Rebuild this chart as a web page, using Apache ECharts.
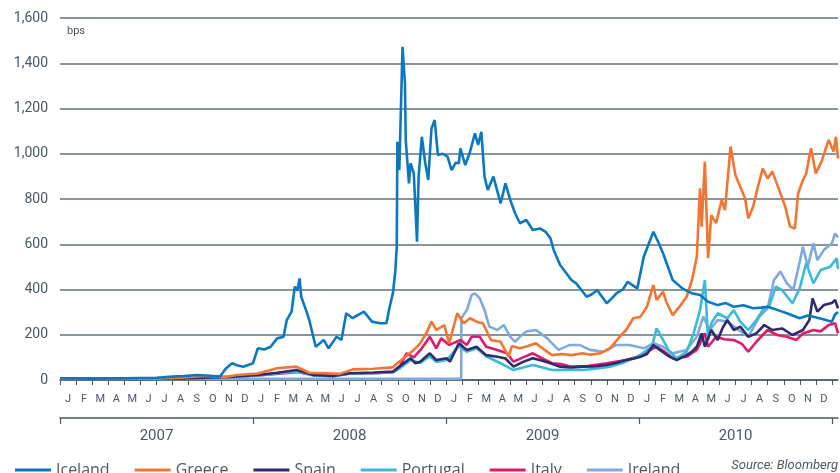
<!DOCTYPE html>
<html>
<head>
<meta charset="utf-8">
<script src="https://cdn.jsdelivr.net/npm/echarts@6/dist/echarts.min.js"></script>
<style>
  html, body { margin: 0; padding: 0; background: #fff; }
  #main { width: 840px; height: 473px; }
</style>
</head>
<body>
<div id="main"></div>
<script>
// months since Jan 2007, values in bps
var monthLabels = ['J','F','M','A','M','J','J','A','S','O','N','D',
  'J','F','M','A','M','J','J','A','S','O','N','D',
  'J','F','M','A','M','J','J','A','S','O','N','D',
  'J','F','M','A','M','J','J','A','S','O','N','D'];
var yearLabels = ['2007', '2008', '2009', '2010'];

var icelandX = [0, 2, 4, 6, 7, 7.7, 8.5, 9.1, 9.95, 10.3, 10.7, 11.0, 11.4, 12.0, 12.3, 12.7, 13.1, 13.5, 13.9, 14.1, 14.4, 14.6, 14.75, 14.9, 15.0, 15.3, 15.5, 15.9, 16.2, 16.4, 16.7, 17.2, 17.5, 17.8, 18.2, 18.6, 18.9, 19.4, 19.9, 20.3, 20.5, 20.7, 20.85, 20.94, 20.98, 21.05, 21.1, 21.2, 21.3, 21.45, 21.5, 21.7, 21.8, 22.0, 22.2, 22.3, 22.5, 22.7, 22.9, 23.1, 23.3, 23.5, 23.8, 24.1, 24.35, 24.6, 24.8, 24.9, 25.2, 25.5, 25.8, 26.0, 26.2, 26.4, 26.6, 26.95, 27.4, 27.7, 28.0, 28.3, 28.6, 29.0, 29.4, 29.85, 30.2, 30.5, 30.7, 31.1, 31.5, 31.8, 32.1, 32.4, 32.75, 33.1, 33.4, 34.0, 34.3, 34.6, 35.0, 35.3, 35.9, 36.3, 36.6, 36.9, 37.2, 37.5, 38.1, 38.7, 39.3, 39.8, 40.3, 40.9, 41.4, 41.9, 42.5, 43.1, 43.6, 44.0, 44.6, 45.2, 46.0, 46.5, 46.85, 47.4, 48.0, 48.2, 48.38];
var icelandY = [8, 6, 8, 10, 15, 18, 22, 20, 15, 50, 74, 65, 59, 74, 140, 135, 147, 184, 191, 265, 302, 412, 395, 449, 368, 309, 265, 147, 165, 177, 140, 191, 177, 295, 273, 290, 302, 258, 251, 251, 324, 383, 480, 589, 1053, 950, 928, 1200, 1473, 1311, 1061, 869, 958, 913, 611, 899, 1075, 965, 884, 1112, 1149, 995, 1000, 987, 928, 960, 958, 1024, 950, 1009, 1090, 1039, 1097, 899, 840, 899, 781, 869, 796, 737, 693, 707, 663, 670, 655, 626, 575, 508, 471, 442, 427, 400, 368, 380, 398, 339, 360, 383, 400, 434, 405, 545, 600, 655, 610, 560, 442, 405, 383, 376, 346, 331, 340, 324, 330, 317, 320, 324, 310, 295, 273, 285, 280, 270, 258, 290, 300];

var greeceX = [0, 3, 6, 7.5, 9, 10.2, 11, 12.3, 13.5, 14.7, 15.5, 16.5, 17.4, 18.2, 19.5, 20.7, 21.1, 21.6, 22.0, 22.4, 22.8, 23.1, 23.4, 23.9, 24.2, 24.7, 25.1, 25.5, 26.0, 26.3, 26.8, 27.4, 27.9, 28.1, 28.6, 29.1, 29.6, 30.0, 30.6, 31.2, 31.8, 32.5, 33.0, 33.6, 34.2, 34.8, 35.2, 35.65, 36.1, 36.5, 36.9, 37.1, 37.5, 37.7, 38.1, 38.6, 38.97, 39.3, 39.6, 39.8, 39.9, 40.1, 40.3, 40.5, 40.8, 41.15, 41.35, 41.7, 42.0, 42.3, 42.6, 42.8, 43.1, 43.4, 43.7, 44.0, 44.3, 44.8, 45.1, 45.4, 45.7, 45.9, 46.2, 46.4, 46.7, 47.0, 47.35, 47.8, 47.9, 48.1, 48.25, 48.38];
var greeceY = [5, 5, 6, 10, 18, 12, 22, 29, 52, 59, 32, 30, 27, 47, 50, 56, 81, 110, 133, 162, 210, 258, 221, 243, 162, 295, 251, 273, 255, 251, 177, 169, 103, 150, 140, 150, 162, 140, 110, 115, 110, 118, 112, 118, 140, 191, 221, 273, 280, 324, 420, 354, 390, 346, 287, 331, 368, 442, 545, 847, 678, 965, 538, 729, 693, 796, 751, 1031, 906, 854, 803, 715, 766, 854, 935, 891, 921, 825, 766, 678, 670, 825, 884, 913, 1024, 913, 965, 1061, 1068, 1010, 1075, 980];

var spainX = [0, 4, 7, 9, 10.5, 12.3, 13.5, 14.7, 15.75, 17.0, 18.0, 19.5, 20.7, 21.1, 21.8, 22.1, 22.4, 23.0, 23.4, 24.05, 24.25, 24.8, 25.3, 25.9, 26.5, 27.2, 27.7, 28.2, 28.8, 29.4, 30.0, 30.5, 31.1, 31.8, 32.5, 33.2, 34.0, 34.6, 35.2, 35.7, 36.1, 36.5, 36.9, 37.3, 37.9, 38.35, 38.97, 39.3, 39.6, 39.9, 40.1, 40.5, 40.9, 41.2, 41.5, 41.9, 42.3, 42.8, 43.3, 43.8, 44.3, 44.9, 45.55, 46.2, 46.6, 46.8, 47.1, 47.5, 48.0, 48.2, 48.38];
var spainY = [4, 4, 6, 10, 14, 22, 32, 44, 22, 18, 30, 33, 37, 59, 96, 74, 81, 118, 88, 96, 81, 162, 133, 147, 110, 103, 95, 59, 80, 96, 85, 74, 59, 55, 59, 60, 66, 75, 88, 95, 103, 115, 155, 133, 103, 88, 110, 125, 147, 206, 147, 221, 177, 230, 265, 221, 236, 191, 206, 243, 221, 228, 199, 221, 265, 361, 302, 331, 340, 354, 317];

var portugalX = [0, 4, 7, 9, 10.5, 12.3, 14.7, 15.75, 17, 18, 19.5, 20.7, 21.1, 21.8, 22.4, 23.0, 23.4, 24.05, 24.8, 25.3, 25.9, 26.5, 27.4, 28.2, 28.8, 29.4, 30.0, 30.6, 31.5, 32.5, 33.3, 34.2, 35.0, 35.65, 36.1, 36.5, 36.8, 37.1, 37.5, 37.9, 38.35, 38.97, 39.4, 39.8, 40.1, 40.3, 40.5, 40.9, 41.5, 41.9, 42.3, 42.8, 43.3, 43.7, 44.1, 44.5, 44.9, 45.55, 46.0, 46.4, 46.85, 47.3, 47.9, 48.3, 48.38];
var portugalY = [3, 3, 5, 8, 12, 20, 38, 20, 16, 28, 30, 33, 50, 88, 75, 105, 80, 88, 150, 125, 140, 105, 74, 44, 55, 66, 55, 44, 45, 44, 50, 59, 75, 96, 110, 133, 145, 228, 177, 125, 96, 125, 206, 309, 442, 177, 251, 295, 273, 309, 258, 221, 265, 309, 324, 412, 398, 339, 405, 516, 427, 486, 501, 538, 491];

var italyX = [0, 4, 7, 9, 10.5, 12.3, 14.7, 15.75, 17, 18, 19.5, 20.7, 21.1, 21.55, 22.0, 22.5, 23.0, 23.4, 23.7, 24.2, 24.9, 25.3, 25.6, 26.1, 26.5, 27.2, 27.8, 28.2, 28.8, 29.4, 30.0, 30.6, 31.2, 31.8, 32.8, 34.0, 35.2, 35.8, 36.5, 37.1, 37.6, 38.1, 38.97, 39.6, 40.1, 40.3, 40.8, 41.3, 41.9, 42.4, 42.8, 43.3, 44.0, 44.6, 45.2, 45.8, 46.2, 46.85, 47.3, 47.8, 48.2, 48.38];
var italyY = [8, 7, 8, 10, 14, 20, 35, 22, 20, 28, 30, 35, 55, 118, 100, 140, 191, 140, 184, 155, 177, 155, 191, 191, 147, 133, 118, 81, 100, 118, 95, 74, 70, 59, 62, 74, 88, 100, 125, 147, 125, 96, 103, 133, 206, 147, 191, 180, 177, 160, 125, 169, 221, 199, 191, 177, 206, 221, 215, 243, 251, 206];

var irelandX = [0, 24.95, 24.96, 25.3, 25.6, 25.8, 26.1, 26.4, 26.7, 27.2, 27.6, 28.0, 28.3, 28.6, 29.0, 29.6, 30.3, 31.0, 31.7, 32.3, 32.96, 33.8, 34.6, 35.4, 36.3, 36.9, 37.5, 38.1, 38.97, 39.6, 40.0, 40.4, 40.9, 41.5, 42.2, 42.8, 43.5, 44.0, 44.4, 44.8, 45.2, 45.6, 46.0, 46.2, 46.5, 46.85, 47.1, 47.5, 48.0, 48.2, 48.38];
var irelandY = [5, 5, 273, 309, 376, 383, 361, 309, 236, 221, 243, 191, 169, 191, 214, 221, 184, 133, 155, 155, 133, 125, 155, 155, 140, 162, 147, 118, 133, 191, 280, 221, 265, 258, 221, 191, 280, 317, 442, 479, 427, 398, 523, 589, 501, 604, 530, 575, 604, 648, 630];

function pairs(xs, ys) {
  return xs.map(function (x, i) { return [x, ys[i]]; });
}

var textColor = '#4a5866';
var font = 'Roboto';

function line(name, color, xs, ys) {
  return {
    name: name, type: 'line', xAxisIndex: 0, yAxisIndex: 0,
    data: pairs(xs, ys), showSymbol: false, symbol: 'none',
    lineStyle: { color: color, width: 2.6 }, itemStyle: { color: color },
    emphasis: { disabled: true }
  };
}

var chart = echarts.init(document.getElementById('main'));
chart.setOption({
  animation: false,
  textStyle: { fontFamily: font },
  grid: [
    { left: 60, right: 2, top: 18, bottom: 93 },
    { left: 60, right: 8, top: 18, bottom: 93 }
  ],
  legend: {
    data: ['Iceland', 'Greece', 'Spain', 'Portugal', 'Italy', 'Ireland'],
    left: 10, top: 457,
    icon: 'rect', itemWidth: 36, itemHeight: 3, itemGap: 25,
    textStyle: { color: textColor, fontSize: 16, fontFamily: 'Open Sans' }
  },
  xAxis: [
    { type: 'value', gridIndex: 0, min: 0, max: 48.38,
      axisLine: { show: true, lineStyle: { color: textColor, width: 1.5 } },
      axisTick: { show: false }, axisLabel: { show: false }, splitLine: { show: false } },
    { type: 'category', gridIndex: 1, data: monthLabels, boundaryGap: true, position: 'bottom',
      axisLine: { show: false },
      axisTick: { show: true, length: 5, interval: 0, lineStyle: { color: textColor, width: 1 } },
      axisLabel: { interval: 0, margin: 14, color: textColor, fontSize: 11, fontFamily: font } },
    { type: 'category', gridIndex: 1, data: yearLabels, boundaryGap: true, position: 'bottom', offset: 38,
      axisLine: { show: false },
      axisTick: { show: true, length: 6, interval: 0, lineStyle: { color: textColor, width: 1.2 } },
      axisLabel: { interval: 0, margin: 11, color: textColor, fontSize: 15, fontFamily: font } },
    { type: 'value', gridIndex: 0, min: 0, max: 48.38, position: 'bottom', offset: 38,
      axisLine: { show: true, lineStyle: { color: textColor, width: 1.5 } },
      axisTick: { show: false }, axisLabel: { show: false }, splitLine: { show: false } }
  ],
  yAxis: [
    { type: 'value', gridIndex: 0, min: 0, max: 1600, interval: 200,
      axisLine: { show: false }, axisTick: { show: false },
      axisLabel: { margin: 12, color: textColor, fontSize: 14, fontFamily: font,
        formatter: function (v) { return v.toLocaleString('en-US'); } },
      splitLine: { show: true, lineStyle: { color: '#66707a', width: 1.5 } } },
    { type: 'value', gridIndex: 1, min: 0, max: 1600, show: false }
  ],
  graphic: [
    { type: 'text', left: 67, top: 26, style: { text: 'bps', fill: textColor, fontSize: 11, fontFamily: font } },
    { type: 'text', right: 2, top: 459, style: { text: 'Source: Bloomberg', fill: textColor, fontSize: 13, fontStyle: 'italic', fontFamily: font } }
  ],
  series: [
    line('Ireland', '#7ea9dc', irelandX, irelandY),
    line('Italy', '#e3186b', italyX, italyY),
    line('Portugal', '#3bb9d6', portugalX, portugalY),
    line('Spain', '#2e2c6e', spainX, spainY),
    line('Greece', '#f47432', greeceX, greeceY),
    line('Iceland', '#0a78c0', icelandX, icelandY)
  ]
});
</script>
</body>
</html>
